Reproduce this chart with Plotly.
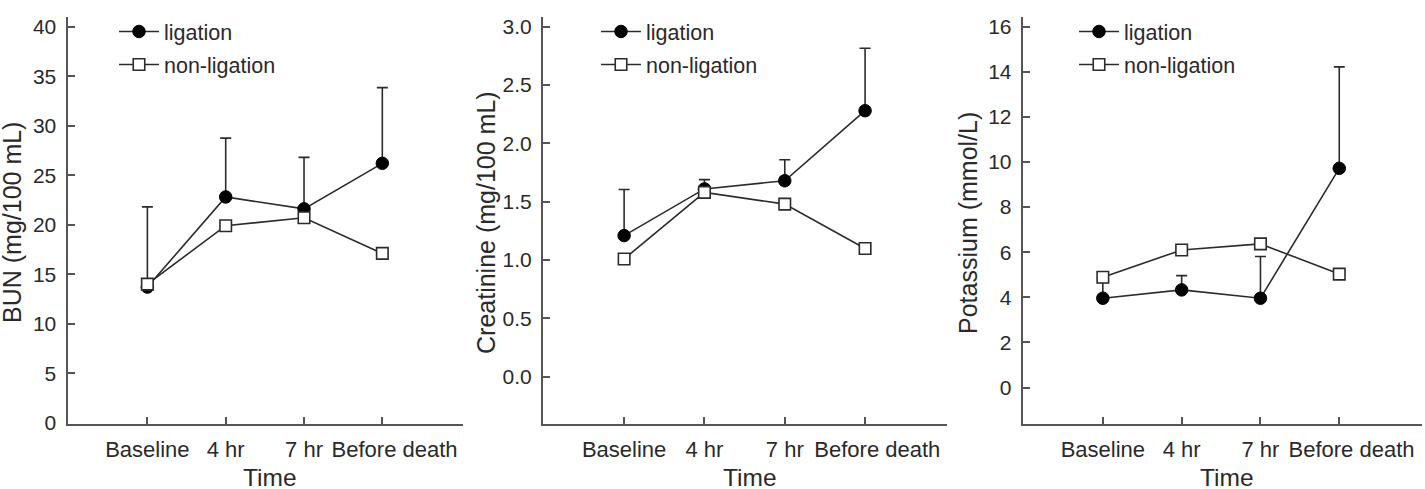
import plotly.graph_objects as go

W, H = 1425, 489

time_labels = ["Baseline", "4 hr", "7 hr", "Before death"]
time_pos = [1, 2, 3, 4]

bun_lig = [13.7, 22.8, 21.6, 26.2]
bun_lig_err = [8.1, 5.95, 5.2, 7.65]
bun_non = [14.0, 19.9, 20.7, 17.1]

cre_lig = [1.21, 1.61, 1.68, 2.28]
cre_lig_err = [0.395, 0.08, 0.18, 0.535]
cre_non = [1.01, 1.58, 1.48, 1.10]

pot_lig = [3.96, 4.33, 3.96, 9.72]
pot_lig_err = [0.7, 0.63, 1.85, 4.5]
pot_non = [4.89, 6.10, 6.37, 5.03]

y_titles = ["BUN (mg/100 mL)", "Creatinine (mg/100 mL)", "Potassium (mmol/L)"]
y_ticks = [[0, 5, 10, 15, 20, 25, 30, 35, 40],
           [0.0, 0.5, 1.0, 1.5, 2.0, 2.5, 3.0],
           [0, 2, 4, 6, 8, 10, 12, 14, 16]]
y_fmt = ["d", ".1f", "d"]
y_ranges = [[-0.08, 40.98], [-0.40, 3.083], [-1.595, 16.43]]
x_ranges = [[-0.02, 5.03], [-0.01, 5.02], [-0.017, 5.05]]

FONT = "Liberation Sans, Arial, sans-serif"
TXT = "#2a2a2a"
AX = "#555555"

# pixel layout
x_dom_px = [(67.5, 463), (543, 947), (1022.7, 1422)]
y_top_px, y_bot_px = 17, 423.5
legend_px = [(114, 11), (596, 11), (1074, 11)]
ytitle_px = [12, 486, 968]

series = [(bun_lig, bun_lig_err, bun_non), (cre_lig, cre_lig_err, cre_non),
          (pot_lig, pot_lig_err, pot_non)]

fig = go.Figure()
for i, (lig, err, non) in enumerate(series):
    k = "" if i == 0 else str(i + 1)
    leg = "legend" + k
    fig.add_trace(go.Scatter(
        x=time_pos, y=lig, name="ligation", mode="lines+markers",
        xaxis="x" + k, yaxis="y" + k, legend=leg, legendgroup="a" + k,
        line=dict(color="#2b2b2b", width=1.6),
        marker=dict(symbol="circle", size=12.5, color="#000000",
                    line=dict(color="#000000", width=1)),
        error_y=dict(type="data", array=err, arrayminus=[0] * len(err),
                     symmetric=False, color="#2b2b2b", thickness=1.6, width=5.5),
    ))
    fig.add_trace(go.Scatter(
        x=time_pos, y=non, name="non-ligation", mode="lines+markers",
        xaxis="x" + k, yaxis="y" + k, legend=leg, legendgroup="b" + k,
        line=dict(color="#2b2b2b", width=1.6),
        marker=dict(symbol="square", size=11.5, color="#ffffff",
                    line=dict(color="#2b2b2b", width=1.6)),
    ))

    x0, x1 = x_dom_px[i]
    xa = dict(domain=[x0 / W, x1 / W], range=x_ranges[i], anchor="y" + k,
              tickmode="array", tickvals=time_pos, tickangle=0, automargin=False,
              ticktext=[t if t != "Before death" else "\u00a0\u00a0\u00a0\u00a0" + t for t in time_labels],
              ticks="inside", ticklen=7, tickwidth=1.5, tickcolor=AX,
              ticklabelstandoff=5,
              showline=True, linecolor=AX, linewidth=2, showgrid=False,
              zeroline=False, tickfont=dict(size=22, color=TXT, family=FONT))
    ya = dict(domain=[(H - y_bot_px) / H, (H - y_top_px) / H], range=y_ranges[i],
              anchor="x" + k, tickmode="array", tickvals=y_ticks[i], automargin=False,
              tickformat=y_fmt[i], ticklabelstandoff=5,
              ticks="inside", ticklen=7, tickwidth=1.5, tickcolor=AX,
              showline=True, linecolor=AX, linewidth=2, showgrid=False,
              zeroline=False, tickfont=dict(size=21, color=TXT, family=FONT))
    fig.update_layout({"xaxis" + k: xa, "yaxis" + k: ya})

    lx, ly = legend_px[i]
    fig.update_layout({leg: dict(x=lx / W, y=(H - ly) / H, xanchor="left", yanchor="top",
                                 bgcolor="rgba(0,0,0,0)", borderwidth=0, itemwidth=40,
                                 font=dict(size=21.5, color=TXT, family=FONT),
                                 tracegroupgap=2, traceorder="grouped")})

    fig.add_annotation(text=y_titles[i], x=ytitle_px[i] / W, y=(H - 223) / H,
                       xref="paper", yref="paper", textangle=-90, showarrow=False,
                       xanchor="center", yanchor="middle",
                       font=dict(size=25, color=TXT, family=FONT))
    fig.add_annotation(text="Time", x=((x0 + x1) / 2 + 5) / W, y=(H - 477) / H,
                       xref="paper", yref="paper", showarrow=False,
                       xanchor="center", yanchor="middle",
                       font=dict(size=24.5, color=TXT, family=FONT))

fig.update_layout(width=W, height=H, margin=dict(l=0, r=0, t=0, b=0, autoexpand=False),
                  paper_bgcolor="white", plot_bgcolor="white", showlegend=True,
                  font=dict(family=FONT, color=TXT))
fig.write_html("out.html")
